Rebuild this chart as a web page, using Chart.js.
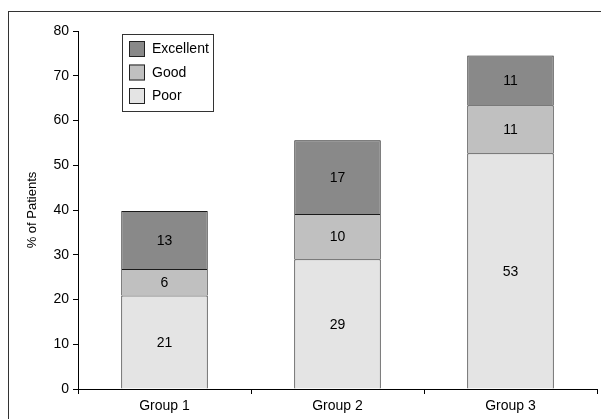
<!DOCTYPE html>
<html>
<head>
<meta charset="utf-8">
<script src="https://cdn.jsdelivr.net/npm/chart.js@4/dist/chart.umd.min.js"></script>
<style>
  html, body { margin: 0; padding: 0; background: #fff; overflow: hidden; }
  #wrap { position: relative; width: 601px; height: 419px; }
  #frame { position: absolute; left: 8px; top: 11px; width: 640px; height: 460px; border: 1px solid #333; box-sizing: border-box; }
  canvas { position: absolute; left: 0; top: 0; }
</style>
</head>
<body>
<div id="wrap">
  <div id="frame"></div>
  <canvas id="c" width="601" height="419"></canvas>
</div>
<script>
const categories = ["Group 1", "Group 2", "Group 3"];
const poorValues = [20.9, 29.0, 52.7];
const goodValues = [5.9, 10.1, 10.7];
const excellentValues = [13.0, 16.5, 11.1];
const poorLabels = ["21", "29", "53"];
const goodLabels = ["6", "10", "11"];
const excellentLabels = ["13", "17", "11"];
const yTicks = [0, 10, 20, 30, 40, 50, 60, 70, 80];

const FONT = "'Liberation Sans', Arial, sans-serif";

const segLabels = [poorLabels, goodLabels, excellentLabels];

const valuePlugin = {
  id: 'values',
  afterDatasetsDraw(chart) {
    const ctx = chart.ctx;
    ctx.save();
    ctx.fillStyle = '#000';
    ctx.font = '14px ' + FONT;
    ctx.textAlign = 'center';
    ctx.textBaseline = 'middle';
    chart.data.datasets.forEach((ds, di) => {
      const meta = chart.getDatasetMeta(di);
      meta.data.forEach((bar, i) => {
        const y = (bar.y + bar.base) / 2;
        ctx.fillText(segLabels[di][i], bar.x, y + 1);
      });
    });
    ctx.restore();
  }
};

const legendPlugin = {
  id: 'boxLegend',
  afterDraw(chart) {
    const ctx = chart.ctx;
    const x = chart.scales.x;
    const y = chart.scales.y;
    const left = x.left + 44, top = y.top + 3, w = 91, h = 77;
    ctx.save();
    ctx.fillStyle = '#fff';
    ctx.fillRect(left, top, w, h);
    ctx.strokeStyle = '#333';
    ctx.lineWidth = 1;
    ctx.strokeRect(left + 0.5, top + 0.5, w, h);
    const order = [2, 1, 0];
    ctx.font = '14px ' + FONT;
    ctx.textBaseline = 'middle';
    order.forEach((di, k) => {
      const ds = chart.data.datasets[di];
      const sy = top + 7 + k * 23.5;
      ctx.fillStyle = ds.backgroundColor;
      ctx.fillRect(left + 7, sy, 16, 16);
      ctx.strokeStyle = '#222';
      ctx.strokeRect(left + 7.5, sy + 0.5, 15, 15);
      ctx.fillStyle = '#000';
      ctx.fillText(ds.label, left + 30, sy + 8.5);
    });
    ctx.restore();
  }
};

new Chart(document.getElementById('c'), {
  type: 'bar',
  data: {
    labels: categories,
    datasets: [
      { label: 'Poor', data: poorValues, backgroundColor: '#e4e4e4', borderColor: '#1a1a1a', borderWidth: 1 },
      { label: 'Good', data: goodValues, backgroundColor: '#c0c0c0', borderColor: '#1a1a1a', borderWidth: 1 },
      { label: 'Excellent', data: excellentValues, backgroundColor: '#898989', borderColor: '#1a1a1a', borderWidth: 1 }
    ]
  },
  options: {
    responsive: false,
    animation: false,
    devicePixelRatio: 1,
    layout: { padding: { left: 0, right: 4, top: 31, bottom: 0 } },
    datasets: { bar: { barPercentage: 0.5, categoryPercentage: 1.0 } },
    plugins: { legend: { display: false }, tooltip: { enabled: false } },
    scales: {
      x: {
        stacked: true,
        offset: true,
        border: { display: true, color: '#000', width: 1 },
        grid: { display: true, offset: true, drawOnChartArea: false, drawTicks: true, tickLength: 5, color: '#000' },
        ticks: { color: '#000', font: { family: FONT, size: 14 }, padding: 4, maxRotation: 0 },
        afterFit(s) { s.height = 30; }
      },
      y: {
        stacked: true,
        min: 0, max: 80,
        afterBuildTicks(s) { s.ticks = yTicks.map(v => ({ value: v })); },
        border: { display: true, color: '#000', width: 1 },
        grid: { display: true, drawOnChartArea: false, drawTicks: true, tickLength: 5, color: '#000' },
        ticks: { color: '#000', font: { family: FONT, size: 14 }, padding: 4 },
        title: { display: true, text: '% of Patients', color: '#000', font: { family: FONT, size: 13 }, padding: { top: 25, bottom: 0 } },
        afterFit(s) { s.width = 78; }
      }
    }
  },
  plugins: [valuePlugin, legendPlugin]
});
</script>
</body>
</html>
